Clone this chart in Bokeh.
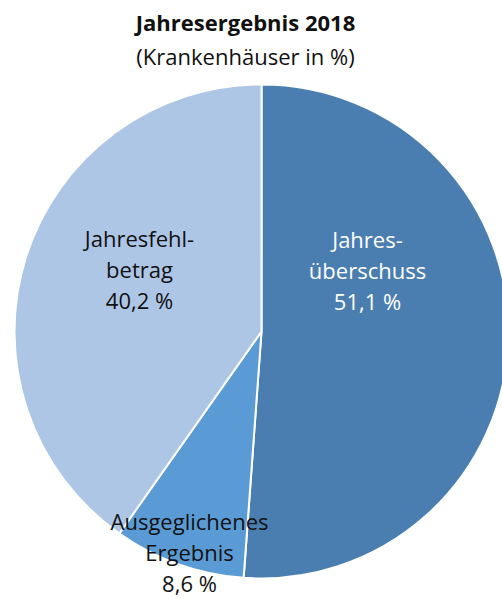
import math
from bokeh.plotting import figure
from bokeh.models import Range1d, ColumnDataSource
from bokeh.core.properties import value
from bokeh.embed import file_html
from bokeh.resources import INLINE

# ---- data ----
title_text = "Jahresergebnis 2018"
subtitle_text = "(Krankenhäuser in %)"
categories = ["Jahresüberschuss", "Ausgeglichenes Ergebnis", "Jahresfehlbetrag"]
values = [51.1, 8.6, 40.2]
label_lines = [["Jahres-", "überschuss"], ["Ausgeglichenes", "Ergebnis"], ["Jahresfehl-", "betrag"]]

# ---- styles / layout ----
colors = ["#4a7eb0", "#5b9bd5", "#aec6e6"]
text_colors = ["#ffffff", "#111111", "#111111"]
label_pos = [(367, 248), (189, 530), (139, 247)]   # page px: centre x, first baseline
line_offsets = [0, 31, 62]
FONT = "Open Sans"
FS = "22px"
W, H = 502, 599
TXT_SHIFT = -10

def Y(py):
    return H - py

def YT(py):
    return H - (py + TXT_SHIFT)

p = figure(width=W, height=H, output_backend="svg", toolbar_location=None,
           x_range=Range1d(0, W), y_range=Range1d(0, H),
           min_border=0, outline_line_color=None)
p.axis.visible = False
p.grid.visible = False

total = sum(values)
starts, ends = [], []
cum = 0.0
for v in values:
    a0 = math.pi / 2 - 2 * math.pi * cum / total
    cum += v
    a1 = math.pi / 2 - 2 * math.pi * cum / total
    starts.append(a0)
    ends.append(a1)

src = ColumnDataSource(dict(cat=categories, val=values, start=starts, end=ends, color=colors))
p.wedge(x=261, y=Y(331), radius=247, start_angle="start", end_angle="end",
        direction="clock", fill_color="color", line_color="white", line_width=2, source=src)

# labels
for i, v in enumerate(values):
    pct = f"{v:.1f} %".replace(".", ",")
    lines = label_lines[i] + [pct]
    cx, by = label_pos[i]
    for j, t in enumerate(lines):
        p.text(x=[cx], y=[YT(by + line_offsets[j])], text=[t], text_align="center",
               text_baseline="alphabetic", text_font=value(FONT), text_font_size=FS,
               text_color=text_colors[i])

# title
p.text(x=[245], y=[YT(31)], text=[title_text], text_align="center", text_baseline="alphabetic",
       text_font=value(FONT), text_font_size=FS, text_font_style="bold", text_color="#111111")
p.text(x=[245], y=[YT(65)], text=[subtitle_text], text_align="center", text_baseline="alphabetic",
       text_font=value(FONT), text_font_size=FS, text_color="#111111")

open("out.html", "w").write(file_html(p, INLINE))
